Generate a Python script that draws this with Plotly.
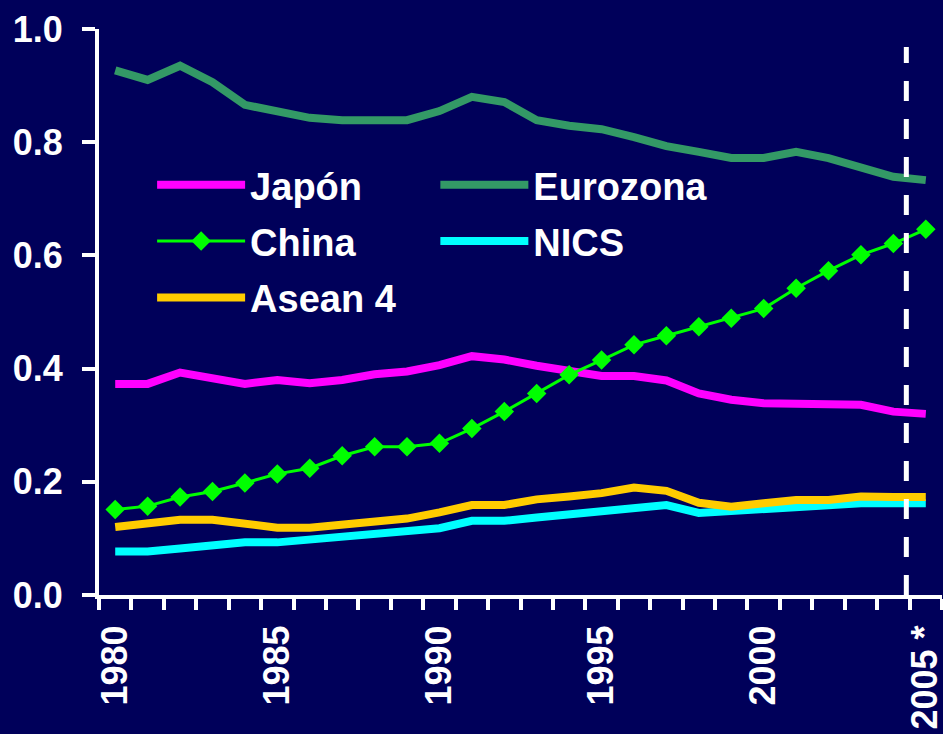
import plotly.graph_objects as go

years = list(range(1980, 2006))

japon = [0.373, 0.373, 0.393, 0.383, 0.373, 0.380, 0.374, 0.380, 0.390, 0.395,
         0.406, 0.422, 0.416, 0.405, 0.395, 0.387, 0.387, 0.379, 0.356, 0.345,
         0.339, 0.339, 0.336, 0.336, 0.324, 0.320]
eurozona = [0.927, 0.910, 0.935, 0.906, 0.866, 0.855, 0.843, 0.839, 0.839, 0.839,
            0.855, 0.880, 0.871, 0.839, 0.829, 0.823, 0.809, 0.793, 0.783, 0.772,
            0.772, 0.783, 0.772, 0.756, 0.739, 0.733]
china = [0.151, 0.157, 0.173, 0.183, 0.198, 0.214, 0.224, 0.246, 0.262, 0.262,
         0.268, 0.294, 0.324, 0.356, 0.389, 0.415, 0.442, 0.458, 0.474, 0.489,
         0.506, 0.542, 0.573, 0.601, 0.621, 0.646]
nics = [0.077, 0.077, 0.082, 0.088, 0.093, 0.093, 0.098, 0.104, 0.109, 0.114,
        0.118, 0.131, 0.131, 0.137, 0.142, 0.148, 0.154, 0.159, 0.145, 0.149,
        0.153, 0.155, 0.158, 0.162, 0.162, 0.162]
asean4 = [0.120, 0.125, 0.133, 0.133, 0.125, 0.119, 0.119, 0.125, 0.130, 0.135,
          0.146, 0.159, 0.159, 0.169, 0.174, 0.180, 0.190, 0.184, 0.163, 0.156,
          0.162, 0.168, 0.168, 0.174, 0.173, 0.173]

x_tick_vals = [1980, 1985, 1990, 1995, 2000, 2005]
x_tick_text = ["1980", "1985", "1990", "1995", "2000", "2005 *"]
y_tick_vals = [0.0, 0.2, 0.4, 0.6, 0.8, 1.0]
projection_x = 2004.4
projection_top = 0.968

BG = "#00005a"
FONT = "Liberation Sans, Arial, sans-serif"

fig = go.Figure()

fig.add_trace(go.Scatter(x=years, y=japon, name="Japón", mode="lines",
                         line=dict(color="#ff00ff", width=8),
                         legend="legend", legendgroup="g1", legendrank=1))
fig.add_trace(go.Scatter(x=years, y=eurozona, name="Eurozona", mode="lines",
                         line=dict(color="#339966", width=8),
                         legend="legend2", legendgroup="g4", legendrank=4))
fig.add_trace(go.Scatter(x=years, y=nics, name="NICS", mode="lines",
                         line=dict(color="#00ffff", width=8),
                         legend="legend2", legendgroup="g5", legendrank=5))
fig.add_trace(go.Scatter(x=years, y=asean4, name="Asean 4", mode="lines",
                         line=dict(color="#ffcc00", width=8),
                         legend="legend", legendgroup="g3", legendrank=3))
fig.add_trace(go.Scatter(x=years, y=china, name="China", mode="lines+markers",
                         line=dict(color="#00ff00", width=3),
                         marker=dict(symbol="diamond", size=15, color="#00ff00"),
                         legend="legend", legendgroup="g2", legendrank=2))

fig.add_shape(type="line", xref="x", yref="y",
              x0=projection_x, x1=projection_x, y0=0, y1=projection_top,
              line=dict(color="white", width=5, dash="20px,18px"), layer="above")

legend_font = dict(family=FONT, size=38, color="white", weight="bold")

fig.update_layout(
    width=943, height=734, autosize=False,
    margin=dict(l=99, r=1, t=29, b=139, autoexpand=False),
    paper_bgcolor=BG, plot_bgcolor=BG,
    font=dict(family=FONT, color="white", size=36, weight="bold"),
    showlegend=True,
    legend=dict(x=0.063, y=0.78, xanchor="left", yanchor="top",
                bgcolor="rgba(0,0,0,0)", borderwidth=0, font=legend_font,
                itemwidth=88, tracegroupgap=4, orientation="v",
                traceorder="grouped"),
    legend2=dict(x=0.399, y=0.78, xanchor="left", yanchor="top",
                 bgcolor="rgba(0,0,0,0)", borderwidth=0, font=legend_font,
                 itemwidth=88, tracegroupgap=4, orientation="v",
                 traceorder="grouped"),
    xaxis=dict(
        range=[1979.5, 2005.5], showgrid=False, zeroline=False,
        showline=True, linecolor="white", linewidth=4,
        tickmode="array", tickvals=x_tick_vals, ticktext=x_tick_text,
        tickangle=-90, ticks="", automargin=False, ticklabeloverflow="allow",
        tickfont=dict(family=FONT, size=36, color="white", weight="bold"),
        ticklabelstandoff=12,
        minor=dict(ticks="outside", tickmode="linear", tick0=1979.5, dtick=1,
                   ticklen=11, tickwidth=4, tickcolor="white", showgrid=False),
    ),
    yaxis=dict(
        range=[0, 1.0], showgrid=False, zeroline=False,
        showline=True, linecolor="white", linewidth=4,
        tickmode="array", tickvals=y_tick_vals, tickformat=".1f",
        ticks="outside", ticklen=13, tickwidth=4, tickcolor="white",
        automargin=False, ticklabeloverflow="allow",
        tickfont=dict(family=FONT, size=36, color="white", weight="bold"),
        ticklabelstandoff=12,
    ),
)

fig.write_html("out.html", config={"displayModeBar": False})

# remove default page margin so the figure fills the window
with open("out.html", "r", encoding="utf-8") as f:
    html = f.read()
html = html.replace("<head>", "<head><style>html,body{margin:0;padding:0;background:%s;overflow:hidden}</style>" % BG, 1)
with open("out.html", "w", encoding="utf-8") as f:
    f.write(html)
